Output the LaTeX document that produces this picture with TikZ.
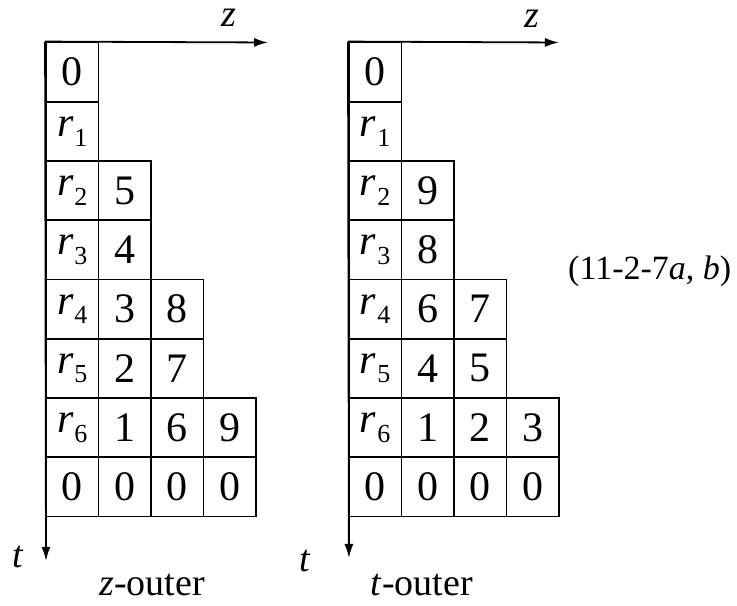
\documentclass[tikz,border=0pt]{standalone}
\usepackage{fontspec}
\setmainfont{Liberation Serif}
\usetikzlibrary{arrows.meta}
\newcommand{\rsub}[1]{\textit{r}\kern0.5pt\raisebox{-0.5ex}{\fontsize{13}{13}\selectfont #1}}

\begin{document}
\begin{tikzpicture}[x=26.25pt, y=-29.625pt, line width=0.9pt]
\tikzstyle{cell}=[draw, minimum width=26.25pt, minimum height=29.625pt, inner sep=0pt, font=\fontsize{21}{23}\selectfont]
\tikzstyle{lbl}=[inner sep=0pt, font=\fontsize{19}{21}\selectfont]
\tikzstyle{axis}=[-{Latex[length=7pt,width=4.5pt]}]
\useasboundingbox (-0.876,-0.717) rectangle (13.162,9.494);
% z-outer
\draw (0.5,0.5) node (z00) [cell] {0};
\draw (0.5,1.5) node (z01) [cell] {\rsub{1}};
\draw (0.5,2.5) node (z02) [cell] {\rsub{2}};
\draw (0.5,3.5) node (z03) [cell] {\rsub{3}};
\draw (0.5,4.5) node (z04) [cell] {\rsub{4}};
\draw (0.5,5.5) node (z05) [cell] {\rsub{5}};
\draw (0.5,6.5) node (z06) [cell] {\rsub{6}};
\draw (0.5,7.5) node (z07) [cell] {0};
\draw (1.5,2.5) node (z12) [cell] {5};
\draw (1.5,3.5) node (z13) [cell] {4};
\draw (1.5,4.5) node (z14) [cell] {3};
\draw (1.5,5.5) node (z15) [cell] {2};
\draw (1.5,6.5) node (z16) [cell] {1};
\draw (1.5,7.5) node (z17) [cell] {0};
\draw (2.5,4.5) node (z24) [cell] {8};
\draw (2.5,5.5) node (z25) [cell] {7};
\draw (2.5,6.5) node (z26) [cell] {6};
\draw (2.5,7.5) node (z27) [cell] {0};
\draw (3.5,6.5) node (z36) [cell] {9};
\draw (3.5,7.5) node (z37) [cell] {0};
\coordinate (zzend) at (4.23,0);
\coordinate (ztend) at (0,8.75);
\draw[axis] (z00.north west) -- (zzend);
\draw[axis] (z00.north west) -- (ztend);
\draw (3.49,-0.41) node (zzlbl) [lbl] {\textit{z}};
\draw (-0.53,8.68) node (ztlbl) [lbl] {\textit{t}};
\draw (2.02,9.15) node (zcap) [lbl] {\textit{z}-outer};
% t-outer
\draw (6.27,0.5) node (t00) [cell] {0};
\draw (6.27,1.5) node (t01) [cell] {\rsub{1}};
\draw (6.27,2.5) node (t02) [cell] {\rsub{2}};
\draw (6.27,3.5) node (t03) [cell] {\rsub{3}};
\draw (6.27,4.5) node (t04) [cell] {\rsub{4}};
\draw (6.27,5.5) node (t05) [cell] {\rsub{5}};
\draw (6.27,6.5) node (t06) [cell] {\rsub{6}};
\draw (6.27,7.5) node (t07) [cell] {0};
\draw (7.27,2.5) node (t12) [cell] {9};
\draw (7.27,3.5) node (t13) [cell] {8};
\draw (7.27,4.5) node (t14) [cell] {6};
\draw (7.27,5.5) node (t15) [cell] {4};
\draw (7.27,6.5) node (t16) [cell] {1};
\draw (7.27,7.5) node (t17) [cell] {0};
\draw (8.27,4.5) node (t24) [cell] {7};
\draw (8.27,5.5) node (t25) [cell] {5};
\draw (8.27,6.5) node (t26) [cell] {2};
\draw (8.27,7.5) node (t27) [cell] {0};
\draw (9.27,6.5) node (t36) [cell] {3};
\draw (9.27,7.5) node (t37) [cell] {0};
\coordinate (tzend) at (9.77,0);
\coordinate (ttend) at (5.77,8.7);
\draw[axis] (t00.north west) -- (tzend);
\draw[axis] (t00.north west) -- (ttend);
\draw (9.26,-0.40) node (tzlbl) [lbl] {\textit{z}};
\draw (4.93,8.75) node (ttlbl) [lbl] {\textit{t}};
\draw (7.16,9.15) node (tcap) [lbl] {\textit{t}-outer};
% equation number
\draw (11.5,3.87) node (eqno) [lbl, font=\fontsize{17}{19}\selectfont] {(11-2-7\textit{a}, \textit{b})};
\end{tikzpicture}
\end{document}
